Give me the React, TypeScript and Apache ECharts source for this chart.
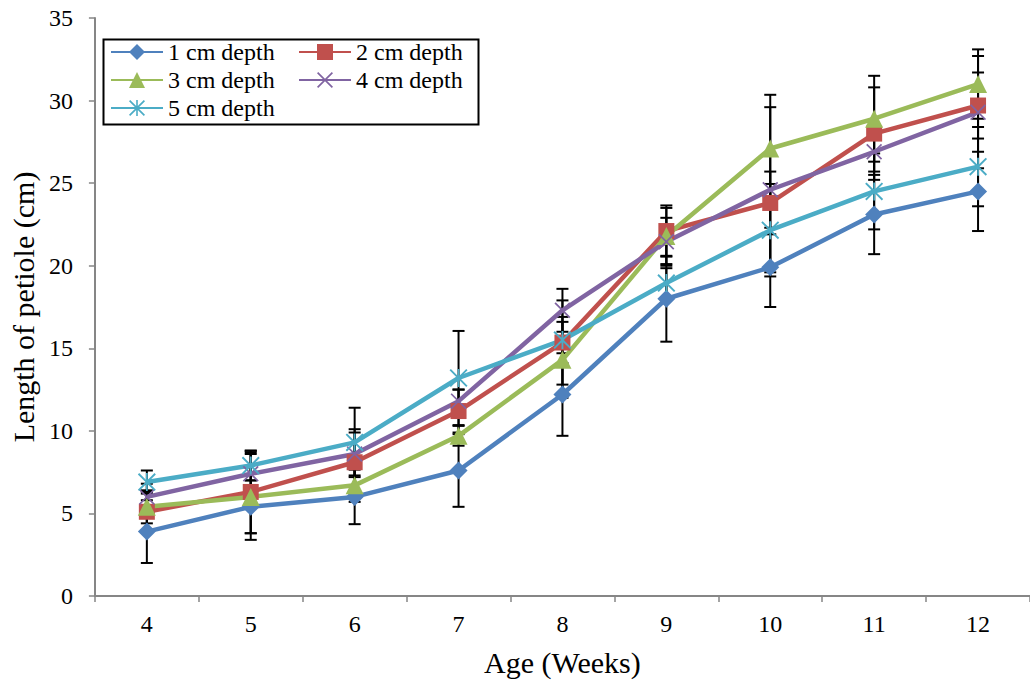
import React, { useEffect, useRef } from "react";
import * as echarts from "echarts";

const weeks = ["4", "5", "6", "7", "8", "9", "10", "11", "12"];
const seriesNames = ["1 cm depth", "2 cm depth", "3 cm depth", "4 cm depth", "5 cm depth"];

const depth1 = [3.9, 5.4, 6.0, 7.6, 12.2, 18.0, 19.9, 23.1, 24.5];
const depth2 = [5.1, 6.3, 8.1, 11.2, 15.35, 22.1, 23.8, 28.0, 29.7];
const depth3 = [5.4, 6.0, 6.7, 9.7, 14.3, 21.8, 27.1, 28.9, 31.0];
const depth4 = [6.0, 7.4, 8.6, 11.8, 17.3, 21.45, 24.6, 26.9, 29.3];
const depth5 = [6.9, 7.9, 9.3, 13.2, 15.5, 18.95, 22.15, 24.5, 26.0];

const err1 = [1.9, 1.6, 1.65, 2.2, 2.5, 2.6, 2.4, 2.4, 2.4];
const err2 = [1.2, 2.5, 2.0, 1.3, 2.55, 1.55, 1.9, 2.8, 2.0];
const err3 = [1.0, 2.6, 1.0, 0.6, 2.3, 1.7, 3.25, 2.6, 2.1];
const err4 = [0.8, 1.3, 1.3, 0.7, 1.3, 1.45, 5.0, 1.2, 3.4];
const err5 = [0.7, 0.9, 2.1, 2.85, 1.4, 0.9, 2.8, 2.3, 2.4];

const yTicks = [0, 5, 10, 15, 20, 25, 30, 35];

const colors = ["#4F81BD", "#C0504D", "#9BBB59", "#8064A2", "#4BACC6"];

const X_SYMBOL =
  "path://M0,1.5 L1.5,0 L10,8.5 L18.5,0 L20,1.5 L11.5,10 L20,18.5 L18.5,20 L10,11.5 L1.5,20 L0,18.5 L8.5,10 Z";
const STAR_SYMBOL =
  "path://M0,1.5 L1.5,0 L10,8.5 L18.5,0 L20,1.5 L11.5,10 L20,18.5 L18.5,20 L10,11.5 L1.5,20 L0,18.5 L8.5,10 Z M9,0 L11,0 L11,20 L9,20 Z";

const FONT = "Liberation Serif, Times New Roman, serif";

export default function App() {
  const ref = useRef<HTMLDivElement>(null);

  useEffect(() => {
    if (!ref.current) return;
    const chart = echarts.init(ref.current, null, { renderer: "svg" });

    const values = [depth1, depth2, depth3, depth4, depth5];
    const errors = [err1, err2, err3, err4, err5];
    const symbols = ["diamond", "rect", "triangle", X_SYMBOL, STAR_SYMBOL];
    const symbolSizes = [18, 16, 18, 16, 18];

    const lineSeries = values.map((vals, i) => ({
      name: seriesNames[i],
      type: "line",
      data: vals,
      symbol: symbols[i],
      symbolSize: symbolSizes[i],
      showAllSymbol: true,
      z: 3,
      lineStyle: { color: colors[i], width: 4.5 },
      itemStyle: { color: colors[i] },
      emphasis: { disabled: true },
    }));

    const errorSeries = values.map((vals, i) => ({
      name: seriesNames[i] + " error",
      type: "custom",
      z: 2,
      silent: true,
      data: vals.map((v, j) => [j, v, errors[i][j]]),
      renderItem: (params: any, api: any) => {
        const x = api.value(0);
        const v = api.value(1);
        const e = api.value(2);
        const top = api.coord([x, v + e]);
        const bot = api.coord([x, v - e]);
        const hw = 6;
        const style = { stroke: "#000", lineWidth: 2 };
        return {
          type: "group",
          children: [
            { type: "line", shape: { x1: top[0], y1: top[1], x2: bot[0], y2: bot[1] }, style },
            { type: "line", shape: { x1: top[0] - hw, y1: top[1], x2: top[0] + hw, y2: top[1] }, style },
            { type: "line", shape: { x1: bot[0] - hw, y1: bot[1], x2: bot[0] + hw, y2: bot[1] }, style },
          ],
        };
      },
    }));

    const legendCommon = {
      orient: "vertical",
      padding: 0,
      itemWidth: 52,
      itemHeight: 20,
      itemGap: 4,
      selectedMode: false,
      textStyle: { fontFamily: FONT, fontSize: 24, color: "#000", lineHeight: 24 },
    };

    chart.setOption({
      animation: false,
      backgroundColor: "#fff",
      textStyle: { fontFamily: FONT },
      grid: { left: 93, right: -3, top: 18, bottom: 89, containLabel: false },
      legend: [
        { ...legendCommon, left: 110, top: 40, data: [seriesNames[0], seriesNames[2], seriesNames[4]] },
        { ...legendCommon, left: 298, top: 40, data: [seriesNames[1], seriesNames[3]] },
      ],
      graphic: [
        {
          type: "rect",
          left: 101,
          top: 37,
          shape: { width: 375, height: 85 },
          style: { fill: "none", stroke: "#000", lineWidth: 2 },
          z: 10,
        },
      ],
      xAxis: {
        type: "category",
        data: weeks,
        boundaryGap: true,
        name: "Age (Weeks)",
        nameLocation: "middle",
        nameGap: 51,
        nameTextStyle: { fontFamily: FONT, fontSize: 30, color: "#000" },
        axisLine: { lineStyle: { color: "#868686", width: 2 } },
        axisTick: { show: true, alignWithLabel: false, length: 6, lineStyle: { color: "#868686", width: 1.5 } },
        axisLabel: { fontFamily: FONT, fontSize: 24, color: "#000", margin: 16 },
        splitLine: { show: false },
      },
      yAxis: {
        type: "value",
        min: yTicks[0],
        max: yTicks[yTicks.length - 1],
        interval: 5,
        name: "Length of petiole (cm)",
        nameLocation: "middle",
        nameGap: 50,
        nameTextStyle: { fontFamily: FONT, fontSize: 30, color: "#000" },
        axisLine: { show: true, lineStyle: { color: "#868686", width: 2 } },
        axisTick: { show: true, length: 6, lineStyle: { color: "#868686", width: 1.5 } },
        axisLabel: { fontFamily: FONT, fontSize: 24, color: "#000", margin: 22 },
        splitLine: { show: false },
      },
      series: [...errorSeries, ...lineSeries],
    });

    return () => chart.dispose();
  }, []);

  return (
    <div
      ref={ref}
      style={{ position: "fixed", left: 0, top: 0, width: 1030, height: 685, background: "#fff" }}
    />
  );
}
